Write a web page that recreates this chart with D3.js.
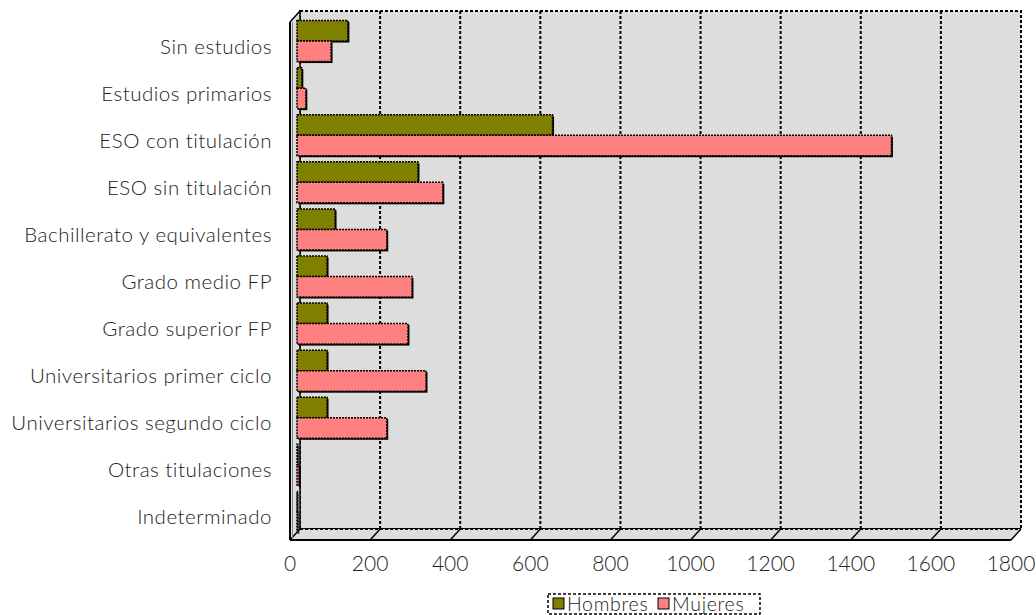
<!DOCTYPE html>
<html><head><meta charset="utf-8">
<script src="https://cdn.jsdelivr.net/npm/d3@7"></script>
<style>
body{margin:0;background:#fff;}
text{font-family:"Lato","Open Sans",sans-serif;font-weight:300;fill:#222;}
</style></head>
<body><svg id="c" width="1036" height="615"></svg>
<script>
const categories = ["Sin estudios","Estudios primarios","ESO con titulación","ESO sin titulación","Bachillerato y equivalentes","Grado medio FP","Grado superior FP","Universitarios primer ciclo","Universitarios segundo ciclo","Otras titulaciones","Indeterminado"];
const hombres = [127, 12, 638, 302, 95, 75, 75, 75, 75, 2, 1];
const mujeres = [85, 22, 1484, 364, 224, 287, 277, 322, 224, 5, 2];
const ticks = [0,200,400,600,800,1000,1200,1400,1600,1800];
const seriesNames = ["Hombres","Mujeres"];
const colors = ["#808000","#FF8080"];

const svg = d3.select("#c");
const back = {l:300, r:1021, t:11, b:529};
const dx = -10, dy = 11;
const x = d3.scaleLinear().domain([0,1800]).range([back.l, back.r]);
const xb = d3.scaleLinear().domain([0,1800]).range([back.l-3, back.r-3]);
const y = d3.scaleBand().domain(categories).range([back.t, back.b]);

// back wall
svg.append("rect").attr("x",back.l).attr("y",back.t).attr("width",back.r-back.l).attr("height",back.b-back.t)
  .attr("fill","#dddddd").attr("stroke","#000").attr("stroke-width",2).attr("stroke-dasharray","3,2");
// side wall
svg.append("path").attr("d",`M${back.l},${back.t}L${back.l+dx},${back.t+dy}L${back.l+dx},${back.b+dy}L${back.l},${back.b}Z`)
  .attr("fill","#dddddd").attr("stroke","none");
// floor
svg.append("path").attr("d",`M${back.l},${back.b}L${back.r},${back.b}L${back.r+dx},${back.b+dy}L${back.l+dx},${back.b+dy}Z`)
  .attr("fill","#dddddd").attr("stroke","none");
// gridlines
svg.selectAll(".grid").data(ticks.slice(1,-1)).join("line")
  .attr("x1",d=>x(d)).attr("x2",d=>x(d)).attr("y1",back.t).attr("y2",back.b)
  .attr("stroke","#000").attr("stroke-width",2).attr("stroke-dasharray","3,2");
// floor diagonals
svg.selectAll(".fd").data(ticks).join("line")
  .attr("x1",d=>x(d)).attr("y1",back.b).attr("x2",d=>x(d)+dx).attr("y2",back.b+dy)
  .attr("stroke","#000").attr("stroke-width",1.5);
// floor back line
svg.append("line").attr("x1",back.l).attr("x2",back.r).attr("y1",back.b).attr("y2",back.b)
  .attr("stroke","#000").attr("stroke-width",2).attr("stroke-dasharray","3,2");
// back left edge
svg.append("line").attr("x1",back.l).attr("x2",back.l).attr("y1",back.t).attr("y2",back.b)
  .attr("stroke","#000").attr("stroke-width",1.5);
// side wall edges
svg.append("line").attr("x1",back.l).attr("y1",back.t).attr("x2",back.l+dx).attr("y2",back.t+dy).attr("stroke","#000").attr("stroke-width",1.5);
svg.append("line").attr("x1",back.l+dx).attr("y1",back.t+dy).attr("x2",back.l+dx).attr("y2",back.b+dy).attr("stroke","#000").attr("stroke-width",2);
svg.append("line").attr("x1",back.l+dx+2.5).attr("y1",back.t+dy).attr("x2",back.l+dx+2.5).attr("y2",back.b+dy-2).attr("stroke","#888").attr("stroke-width",1);
// front axis line
svg.append("line").attr("x1",back.l+dx).attr("x2",back.r+dx).attr("y1",back.b+dy).attr("y2",back.b+dy)
  .attr("stroke","#000").attr("stroke-width",2);

// bars
const bh = 20.5, off = 6.5;
const data = [];
categories.forEach((c,i)=>{
  data.push({c, s:0, v:hombres[i]});
  data.push({c, s:1, v:mujeres[i]});
});
const g = svg.append("g");
g.selectAll("rect.shadow").data(data).join("rect")
  .attr("x",d=>xb(0)+1.5).attr("y",d=>y(d.c)+y.bandwidth()/2+off-bh+d.s*bh+1.5)
  .attr("width",d=>Math.max(0,xb(d.v)-xb(0))).attr("height",bh)
  .attr("fill","#000");
g.selectAll("rect.bar").data(data).join("rect")
  .attr("x",d=>xb(0)).attr("y",d=>y(d.c)+y.bandwidth()/2+off-bh+d.s*bh)
  .attr("width",d=>Math.max(0,xb(d.v)-xb(0))).attr("height",bh)
  .attr("fill",d=>colors[d.s]).attr("stroke","#000").attr("stroke-width",1.5).attr("stroke-dasharray","2,1");

// category labels
svg.selectAll(".cl").data(categories).join("text")
  .attr("x",272).attr("y",d=>y(d)+y.bandwidth()/2+dy)
  .attr("text-anchor","end").attr("dominant-baseline","central")
  .style("font-size","20.5px").style("letter-spacing","0.5px").text(d=>d);
// tick labels
svg.selectAll(".tl").data(ticks).join("text")
  .attr("x",d=>x(d)+dx).attr("y",571)
  .attr("text-anchor","middle").style("font-size","21px").text(d=>d);

// legend
const lg = svg.append("g");
lg.append("rect").attr("x",548).attr("y",594).attr("width",212).attr("height",20)
  .attr("fill","#fff").attr("stroke","#000").attr("stroke-width",1.5).attr("stroke-dasharray","3,2");
const items = [{n:seriesNames[0],c:colors[0],x:553},{n:seriesNames[1],c:colors[1],x:658}];
items.forEach(it=>{
  lg.append("rect").attr("x",it.x).attr("y",598).attr("width",11).attr("height",11)
    .attr("fill",it.c).attr("stroke","#000").attr("stroke-width",1);
  lg.append("text").attr("x",it.x+14).attr("y",611).style("font-size","19.5px").style("letter-spacing","0.7px").text(it.n);
});
</script></body></html>
